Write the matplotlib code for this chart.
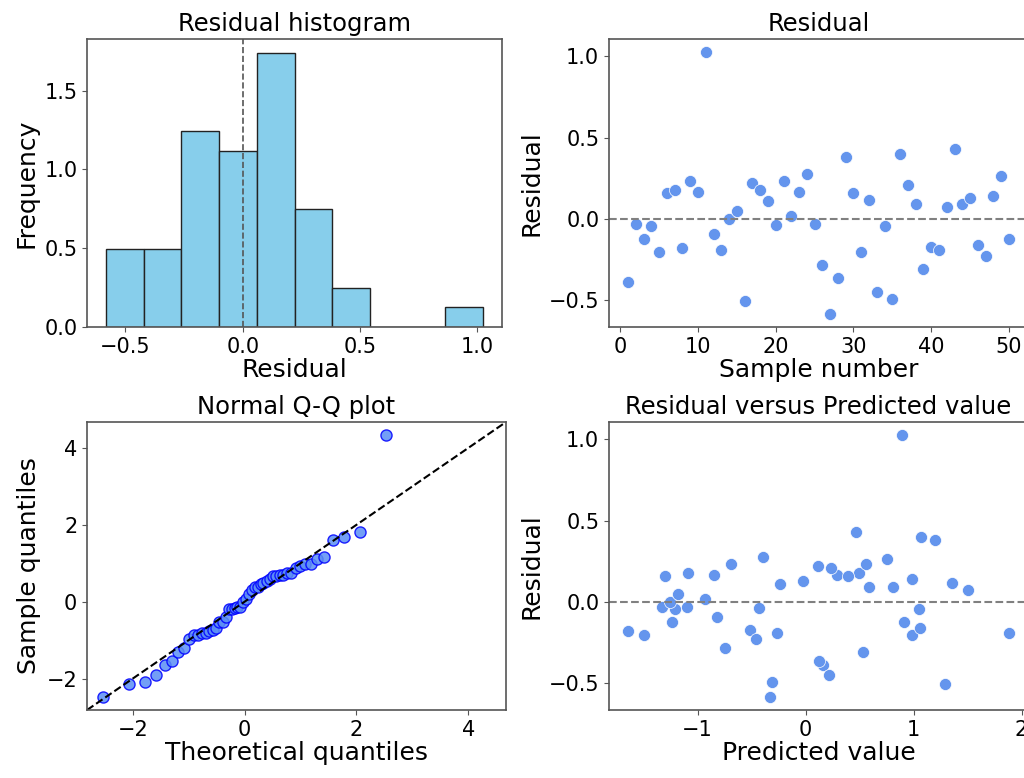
import numpy as np
import matplotlib
matplotlib.use("Agg")
import matplotlib.pyplot as plt

plt.rcParams['font.family'] = ['DejaVu Sans']

# residual of each sample (sample number 1..50)
sample_no = list(range(1, 51))
residual = [-0.390, -0.033, -0.123, -0.041, -0.200, 0.158, 0.179, -0.177, 0.232, 0.166,
            1.025, -0.094, -0.189, 0.000, 0.047, -0.505, 0.222, 0.179, 0.113, -0.037,
            0.234, 0.018, 0.164, 0.279, -0.033, -0.281, -0.583, -0.361, 0.380, 0.160,
            -0.201, 0.115, -0.450, -0.041, -0.489, 0.396, 0.209, 0.092, -0.310, -0.175,
            -0.189, 0.072, 0.429, 0.092, 0.131, -0.158, -0.226, 0.140, 0.265, -0.125]
# predicted value of each sample
predicted = [0.157, -1.330, -1.241, -1.210, -1.497, -1.306, -1.090, -1.645, -0.694, -0.846,
             0.892, -0.818, -0.269, -1.259, -1.185, 1.290, 0.111, 0.497, -0.238, -0.429,
             0.556, -0.932, 0.287, -0.398, -1.099, -0.744, -0.330, 0.127, 1.198, 0.395,
             0.988, 1.355, 0.219, 1.049, -0.309, 1.068, 0.238, 0.583, 0.534, -0.512,
             1.883, 1.506, 0.469, 0.809, -0.025, 1.059, -0.460, 0.988, 0.750, 0.914]

# Q-Q plot: theoretical quantiles (upper half, lower half is mirrored)
tq_upper = [0.026, 0.077, 0.128, 0.179, 0.232, 0.285, 0.338, 0.393, 0.450, 0.507,
            0.567, 0.629, 0.693, 0.763, 0.835, 0.912, 0.995, 1.085, 1.186, 1.299,
            1.429, 1.586, 1.784, 2.059, 2.529]
fit_loc = 0.0016
fit_scale = 0.236

theo_q = [-v for v in tq_upper[::-1]] + tq_upper
sample_q = (np.sort(residual) - fit_loc) / fit_scale

fs_tick = 15
fs_label = 18
fs_title = 17.5
spine_col = '#555555'

fig = plt.figure(figsize=(10.24, 7.78), dpi=100)
ax1 = fig.add_axes([0.0850, 0.5797, 0.4053, 0.3702])
ax2 = fig.add_axes([0.5947, 0.5797, 0.4092, 0.3702])
ax3 = fig.add_axes([0.0850, 0.0874, 0.4092, 0.3702])
ax4 = fig.add_axes([0.5947, 0.0874, 0.4092, 0.3702])

# histogram
ax1.hist(residual, bins=10, density=True, color='skyblue', edgecolor='#222222', linewidth=1)
ax1.axvline(0, color='#555555', linestyle='--', linewidth=1.2)
ax1.set_title('Residual histogram', fontsize=fs_title)
ax1.set_xlabel('Residual', fontsize=fs_label, labelpad=1)
ax1.set_ylabel('Frequency', fontsize=fs_label)
ax1.set_yticks([0.0, 0.5, 1.0, 1.5])

# residual vs sample number
ax2.scatter(sample_no, residual, color='cornflowerblue', s=75, edgecolor='white', linewidth=0.5)
ax2.axhline(0, color='gray', linestyle='--', linewidth=1.5)
ax2.set_title('Residual', fontsize=fs_title)
ax2.set_xlabel('Sample number', fontsize=fs_label, labelpad=1)
ax2.set_ylabel('Residual', fontsize=fs_label)
ax2.set_xticks([0, 10, 20, 30, 40, 50])
ax2.set_yticks([-0.5, 0.0, 0.5, 1.0])

# Q-Q plot
ax3.plot(theo_q, sample_q, marker='o', linestyle='none', markersize=8,
         markerfacecolor='#5b8ef5', markeredgecolor='blue', markeredgewidth=1, alpha=0.85)
xl = ax3.get_xlim()
yl = ax3.get_ylim()
lo = min(xl[0], yl[0])
hi = max(xl[1], yl[1])
ax3.plot([lo, hi], [lo, hi], 'k--', linewidth=1.5)
ax3.set_xlim(lo, hi)
ax3.set_ylim(lo, hi)
ax3.set_xticks([-2, 0, 2, 4])
ax3.set_yticks([-2, 0, 2, 4])
ax3.set_title('Normal Q-Q plot', fontsize=fs_title)
ax3.set_xlabel('Theoretical quantiles', fontsize=fs_label, labelpad=1)
ax3.set_ylabel('Sample quantiles', fontsize=fs_label)

# residual vs predicted
ax4.scatter(predicted, residual, color='cornflowerblue', s=75, edgecolor='white', linewidth=0.5)
ax4.axhline(0, color='gray', linestyle='--', linewidth=1.5)
ax4.set_title('Residual versus Predicted value', fontsize=fs_title)
ax4.set_xlabel('Predicted value', fontsize=fs_label, labelpad=1)
ax4.set_ylabel('Residual', fontsize=fs_label)
ax4.set_xticks([-1, 0, 1, 2])
ax4.set_yticks([-0.5, 0.0, 0.5, 1.0])

for ax in (ax1, ax2, ax3, ax4):
    ax.tick_params(labelsize=fs_tick, color=spine_col)
    for sp in ax.spines.values():
        sp.set_color(spine_col)
        sp.set_linewidth(1.2)

fig.savefig('out.png', dpi=100)
